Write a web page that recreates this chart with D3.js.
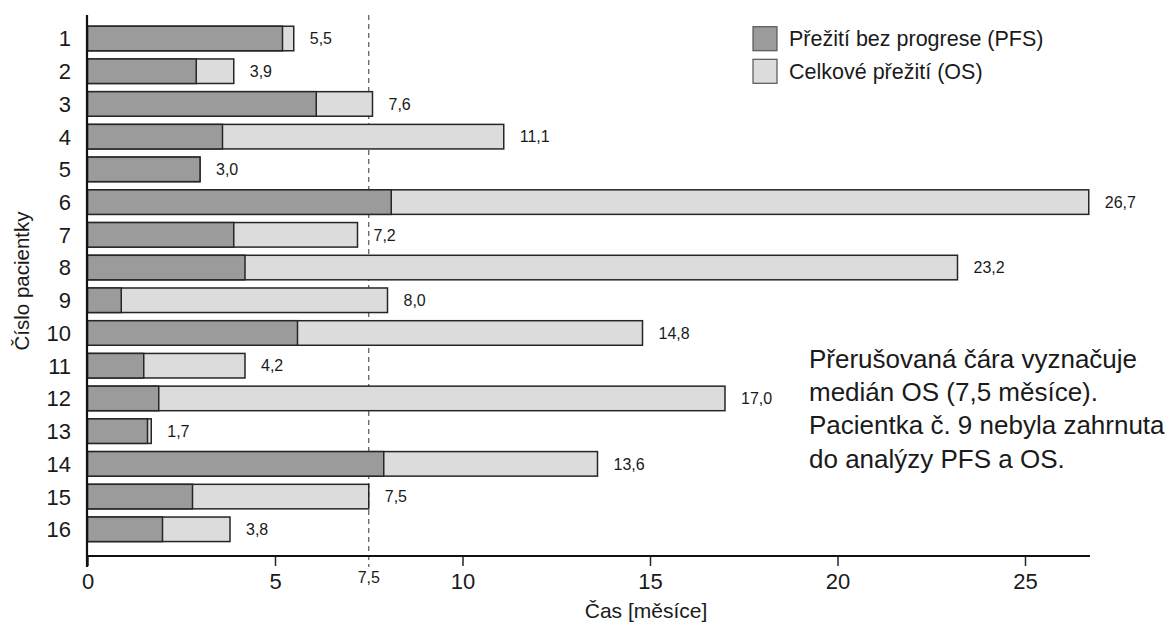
<!DOCTYPE html>
<html><head><meta charset="utf-8">
<script src="https://cdn.jsdelivr.net/npm/d3@7"></script>
<style>
html,body{margin:0;padding:0;background:#fff;}
svg{display:block;font-family:"Liberation Sans",Arial,sans-serif;}
</style></head>
<body>
<svg id="c" width="1176" height="624"></svg>
<script>
const patients = ["1","2","3","4","5","6","7","8","9","10","11","12","13","14","15","16"];
const pfsValues = [5.2,2.9,6.1,3.6,3.0,8.1,3.9,4.2,0.9,5.6,1.5,1.9,1.6,7.9,2.8,2.0];
const osValues = [5.5,3.9,7.6,11.1,3.0,26.7,7.2,23.2,8.0,14.8,4.2,17.0,1.7,13.6,7.5,3.8];
const osLabels = ["5,5","3,9","7,6","11,1","3,0","26,7","7,2","23,2","8,0","14,8","4,2","17,0","1,7","13,6","7,5","3,8"];
const xTicks = [0,5,10,15,20,25];
const medianOS = 7.5;
const medianLabel = "7,5";
const legendLabels = ["Přežití bez progrese (PFS)","Celkové přežití (OS)"];
const noteLines = ["Přerušovaná čára vyznačuje","medián OS (7,5 měsíce).","Pacientka č. 9 nebyla zahrnuta","do analýzy PFS a OS."];
const xTitle = "Čas [měsíce]";
const yTitle = "Číslo pacientky";

const PFS_COLOR = "#9b9b9b", OS_COLOR = "#dcdcdc", STROKE = "#262626", TEXT = "#1a1a1a";

const svg = d3.select("#c");
const x = d3.scaleLinear().domain([0, 26.7]).range([87.5, 87.5 + 26.7*37.5]);
const y = d3.scaleBand().domain(patients).range([22.14, 545.66]).paddingInner(0.25).paddingOuter(0.125);
const axisY = 556;

// dashed median line
svg.append("line")
  .attr("x1", x(medianOS)).attr("x2", x(medianOS))
  .attr("y1", 15).attr("y2", 567)
  .attr("stroke", "#555").attr("stroke-width", 1.2).attr("stroke-dasharray", "5,4");

// OS bars (full length)
svg.append("g").selectAll("rect").data(patients).join("rect")
  .attr("x", x(0)).attr("y", d => y(d))
  .attr("width", (d,i) => x(osValues[i]) - x(0))
  .attr("height", y.bandwidth())
  .attr("fill", OS_COLOR).attr("stroke", STROKE).attr("stroke-width", 1.5);

// PFS bars
svg.append("g").selectAll("rect").data(patients).join("rect")
  .attr("x", x(0)).attr("y", d => y(d))
  .attr("width", (d,i) => x(pfsValues[i]) - x(0))
  .attr("height", y.bandwidth())
  .attr("fill", PFS_COLOR).attr("stroke", STROKE).attr("stroke-width", 1.5);

// value labels
svg.append("g").selectAll("text").data(patients).join("text")
  .attr("x", (d,i) => x(osValues[i]) + 16)
  .attr("y", d => y(d) + y.bandwidth()/2)
  .attr("dy", "0.36em")
  .attr("font-size", 16).attr("fill", TEXT)
  .text((d,i) => osLabels[i]);

// x axis
const xAxis = d3.axisBottom(x).tickValues(xTicks).tickSize(10).tickFormat(d3.format("d"));
const gx = svg.append("g").attr("transform", `translate(0,${axisY})`).call(xAxis);
gx.select(".domain").remove();
gx.selectAll(".tick line").attr("stroke", STROKE).attr("stroke-width", 1.5);
gx.selectAll(".tick text").attr("font-size", 22).attr("fill", TEXT)
  .attr("font-family", "Liberation Sans, Arial, sans-serif")
  .attr("y", 33).attr("dy", 0);
svg.append("line").attr("x1", 86.5).attr("x2", 1090).attr("y1", axisY).attr("y2", axisY)
  .attr("stroke", "#111").attr("stroke-width", 2.2);

// y axis
const yAxis = d3.axisLeft(y).tickSize(0).tickPadding(16);
const gy = svg.append("g").attr("transform", `translate(87,0)`).call(yAxis);
gy.select(".domain").remove();
gy.selectAll(".tick text").attr("font-size", 22).attr("fill", TEXT)
  .attr("font-family", "Liberation Sans, Arial, sans-serif").attr("dy", "0.36em");
svg.append("line").attr("x1", 87).attr("x2", 87).attr("y1", 15).attr("y2", 567)
  .attr("stroke", "#111").attr("stroke-width", 2.2);

// median label
svg.append("text").attr("x", x(medianOS)).attr("y", 583)
  .attr("text-anchor", "middle").attr("font-size", 16).attr("fill", TEXT).text(medianLabel);

// axis titles
svg.append("text").attr("x", 646).attr("y", 618).attr("text-anchor", "middle")
  .attr("font-size", 21).attr("fill", TEXT).text(xTitle);
svg.append("text").attr("transform", "translate(29,281) rotate(-90)").attr("text-anchor", "middle")
  .attr("font-size", 20.5).attr("fill", TEXT).text(yTitle);

// legend
const legColors = [PFS_COLOR, OS_COLOR];
const leg = svg.append("g").selectAll("g").data(legendLabels).join("g")
  .attr("transform", (d,i) => `translate(753,${26.7 + i*32.6})`);
leg.append("rect").attr("width", 24).attr("height", 24)
  .attr("fill", (d,i) => legColors[i]).attr("stroke", "#555").attr("stroke-width", 1.2);
leg.append("text").attr("x", 36).attr("y", 12).attr("dy", "0.36em")
  .attr("font-size", 21.5).attr("fill", TEXT).text(d => d);

// note
svg.append("g").selectAll("text").data(noteLines).join("text")
  .attr("x", 809).attr("y", (d,i) => 367.7 + i*33.3)
  .attr("font-size", 26).attr("fill", TEXT).text(d => d);
</script>
</body></html>
